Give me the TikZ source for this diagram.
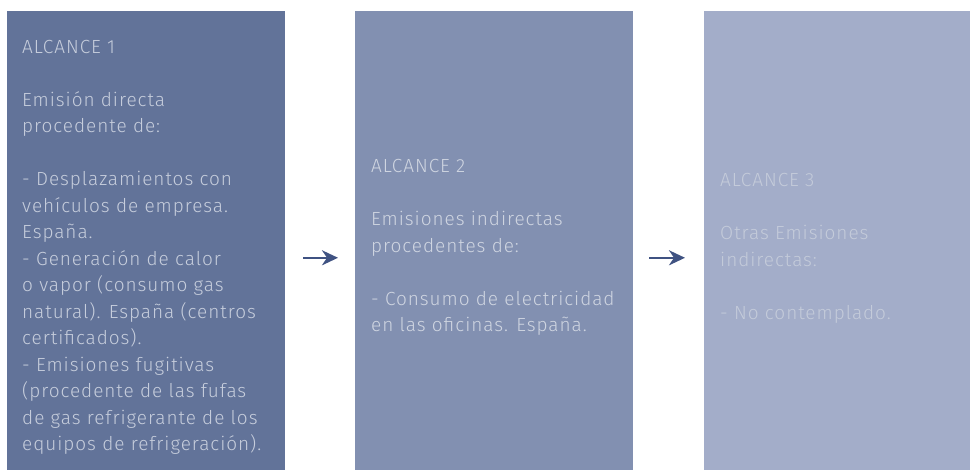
\documentclass[tikz,border=0pt]{standalone}
\usepackage{fontspec}
\setmainfont{Fira Sans}[UprightFont = * Light, LetterSpace=5]
\usetikzlibrary{arrows.meta}
\definecolor{boxA}{HTML}{627399}
\definecolor{boxB}{HTML}{8290B1}
\definecolor{boxC}{HTML}{A3ADC9}
\definecolor{txtA}{HTML}{C6CDDC}
\definecolor{txtB}{HTML}{CFD5E1}
\definecolor{txtC}{HTML}{C4CBDA}
\definecolor{arrowc}{HTML}{3F5282}
\tikzset{
  panel/.style={rectangle, inner sep=0pt, minimum width=278pt, minimum height=459pt, anchor=south west},
  body/.style={inner sep=0pt, anchor=north west, align=left, font=\fontsize{19}{26.5}\selectfont},
  arr/.style={draw=arrowc, line width=2.2pt, -{Stealth[length=16pt,width=15pt,inset=5pt]}}
}
\begin{document}
\begin{tikzpicture}[x=1pt,y=1pt]
\useasboundingbox (0,0) rectangle (970,470);
\clip (0,0) rectangle (970,470);
\fill[white] (0,0) rectangle (970,470);
\node[panel, fill=boxA] (b1) at (7,0) {};
\node[panel, fill=boxB] (b2) at (355,0) {};
\node[panel, fill=boxC] (b3) at (704,0) {};
\node[body, text=txtA] (t1) at (22,430) {ALCANCE 1\\[26.5pt]Emisión directa\\procedente de:\\[26.5pt]- Desplazamientos con\\vehículos de empresa.\\España.\\- Generación de calor\\o vapor (consumo gas\\natural). España (centros\\certificados).\\- Emisiones fugitivas\\(procedente de las fufas\\de gas refrigerante de los\\equipos de refrigeración).};
\node[body, text=txtB] (t2) at (371,310.5) {ALCANCE 2\\[26.5pt]Emisiones indirectas\\procedentes de:\\[26.5pt]- Consumo de electricidad\\en las oficinas. España.};
\node[body, text=txtC] (t3) at (720,296.5) {ALCANCE 3\\[26.5pt]Otras Emisiones\\indirectas:\\[26.5pt]- No contemplado.};
\draw[arr] ([xshift=18pt,yshift=-17.5pt]b1.east) -- ([xshift=-17pt,yshift=-17.5pt]b2.west);
\draw[arr] ([xshift=16pt,yshift=-17.5pt]b2.east) -- ([xshift=-19pt,yshift=-17.5pt]b3.west);
\end{tikzpicture}
\end{document}
